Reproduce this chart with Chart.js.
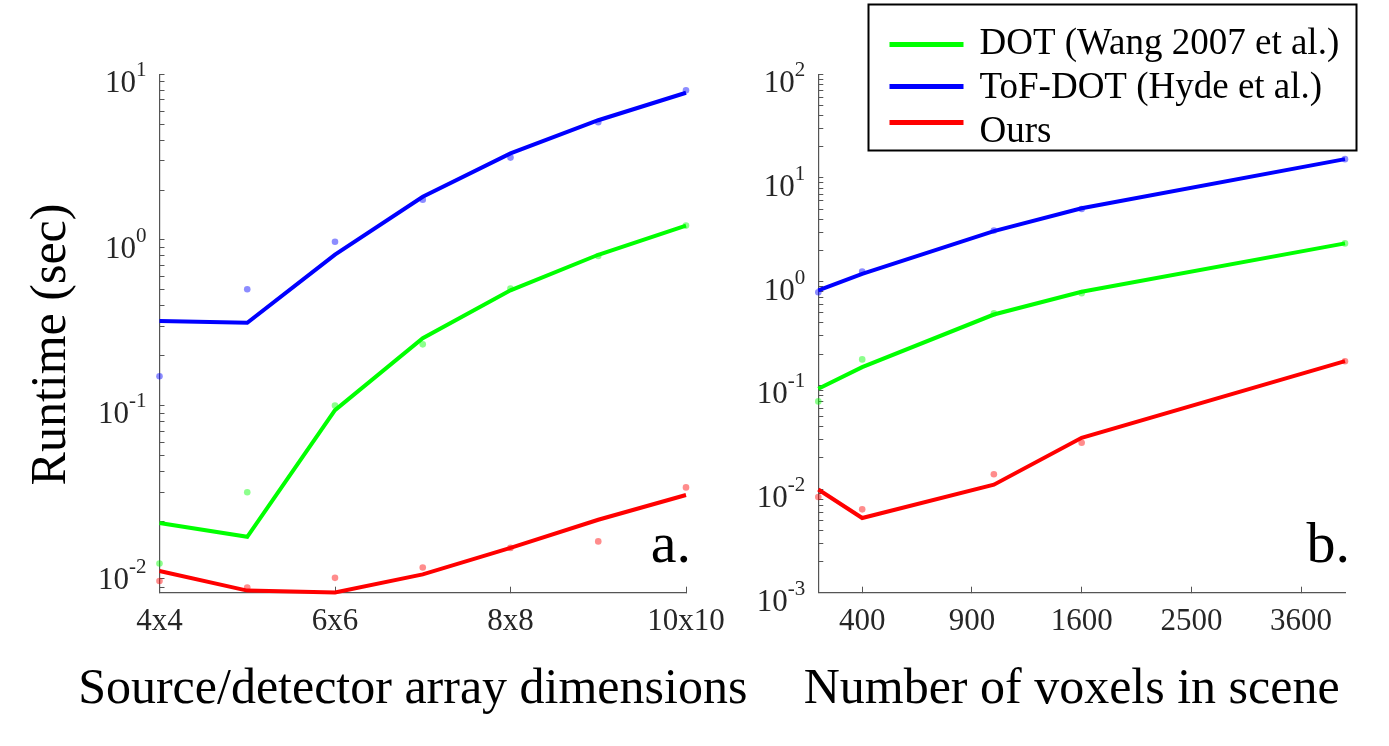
<!DOCTYPE html>
<html>
<head>
<meta charset="utf-8">
<script src="https://cdn.jsdelivr.net/npm/chart.js@4.4.1/dist/chart.umd.min.js"></script>
<style>
  html, body { margin: 0; padding: 0; background: #ffffff; }
  #wrap { position: relative; width: 1389px; height: 746px; }
  canvas { position: absolute; left: 0; top: 0; }
</style>
</head>
<body>
<div id="wrap">
  <canvas id="left" width="1389" height="746"></canvas>
  <canvas id="right" width="1389" height="746"></canvas>
</div>
<script>
// ---------------- data ----------------
const seriesNames = ['DOT (Wang 2007 et al.)', 'ToF-DOT (Hyde et al.)', 'Ours'];
const seriesColors = ['#00ff00', '#0000ff', '#ff0000'];
const dotColors = ['rgba(0,255,0,0.45)', 'rgba(0,0,255,0.45)', 'rgba(255,0,0,0.45)'];

// panel a: source/detector array size n (n x n)
const arraySizes = [4, 5, 6, 7, 8, 9, 10];
const arrayTickValues = [4, 6, 8, 10];
const arrayTickLabels = ['4x4', '6x6', '8x8', '10x10'];
const aDotFit   = [0.0195, 0.0161, 0.0937, 0.255, 0.496, 0.813, 1.22];
const aDotMeas  = [0.0111, 0.0299, 0.100, 0.234, 0.509, 0.80, 1.22];
const aTofFit   = [0.324, 0.316, 0.815, 1.82, 3.33, 5.28, 7.74];
const aTofMeas  = [0.150, 0.503, 0.974, 1.75, 3.14, 5.14, 8.0];
const aOursFit  = [0.0100, 0.00762, 0.00743, 0.00955, 0.0138, 0.0204, 0.0288];
const aOursMeas = [0.0087, 0.00796, 0.0091, 0.0105, 0.0138, 0.0151, 0.032];
const aDecades = [-2, -1, 0, 1];

// panel b: number of voxels in scene
const voxelCounts = [256, 400, 1024, 1600, 4096];
const voxelTickValues = [400, 900, 1600, 2500, 3600];
const bDotFit   = [0.0927, 0.150, 0.482, 0.80, 2.34];
const bDotMeas  = [0.070, 0.178, 0.494, 0.775, 2.34];
const bTofFit   = [0.822, 1.19, 3.07, 5.11, 15.2];
const bTofMeas  = [0.79, 1.25, 3.12, 5.02, 15.2];
const bOursFit  = [0.0099, 0.00525, 0.011, 0.0312, 0.171];
const bOursMeas = [0.00838, 0.00637, 0.0139, 0.0279, 0.171];
const bDecades = [-3, -2, -1, 0, 1, 2];

// ---------------- helpers ----------------
const SERIF = '"Liberation Serif", "Times New Roman", serif';
const AXIS_COLOR = '#555555';
const TICK_COLOR = '#262626';

function pts(xs, ys) { return xs.map((x, i) => ({ x: x, y: ys[i] })); }

function buildDatasets(xs, fits, meas) {
  const ds = [];
  fits.forEach((f, i) => {
    ds.push({
      type: 'line', label: seriesNames[i], data: pts(xs, f),
      borderColor: seriesColors[i], backgroundColor: seriesColors[i],
      borderWidth: 4, pointRadius: 0, tension: 0, fill: false, order: 2, clip: false
    });
  });
  meas.forEach((m, i) => {
    ds.push({
      type: 'line', label: '', data: pts(xs, m), showLine: false,
      pointRadius: 3.3, pointBorderWidth: 0,
      pointBackgroundColor: dotColors[i], borderColor: dotColors[i],
      order: 1, clip: false
    });
  });
  return ds;
}

function logTicks(min, max) {
  const out = [];
  for (let e = Math.floor(Math.log10(min)); e <= Math.ceil(Math.log10(max)); e++) {
    for (let k = 1; k <= 9; k++) {
      const v = k * Math.pow(10, e);
      if (v >= min * 0.9999 && v <= max * 1.0001) out.push({ value: v });
    }
  }
  return out;
}

// draws "10" with superscript exponent, axis titles, the panel letter, and optionally the legend
const decorPlugin = {
  id: 'decor',
  afterDraw(chart, args, opts) {
    const ctx = chart.ctx;
    const y = chart.scales.y;
    const area = chart.chartArea;
    ctx.save();
    ctx.fillStyle = TICK_COLOR;
    opts.decades.forEach(e => {
      const py = y.getPixelForValue(Math.pow(10, e));
      const right = area.left - 13;
      ctx.font = '21px ' + SERIF;
      ctx.textBaseline = 'alphabetic';
      ctx.textAlign = 'right';
      const sup = String(e);
      const supW = ctx.measureText(sup).width;
      ctx.fillText(sup, right, py + 2);
      ctx.font = '31px ' + SERIF;
      ctx.fillText('10', right - supW, py + 18);
    });

    // axis titles
    ctx.fillStyle = '#000000';
    ctx.font = '50px ' + SERIF;
    ctx.textAlign = 'center';
    ctx.textBaseline = 'middle';
    if (opts.xTitle) {
      ctx.fillText(opts.xTitle.text, (area.left + area.right) / 2 + opts.xTitle.dx, opts.xTitle.y);
    }
    if (opts.yTitle) {
      ctx.save();
      ctx.translate(opts.yTitle.x, (area.top + area.bottom) / 2 + opts.yTitle.dy);
      ctx.rotate(-Math.PI / 2);
      ctx.fillText(opts.yTitle.text, 0, 0);
      ctx.restore();
    }

    // panel letter
    ctx.font = '58px ' + SERIF;
    ctx.textAlign = 'right';
    ctx.textBaseline = 'alphabetic';
    ctx.fillText(opts.letter, area.right + 5, area.bottom - 31);

    if (opts.legend) {
      const L = opts.legend;
      ctx.fillStyle = '#ffffff';
      ctx.fillRect(L.x, L.y, L.w, L.h);
      ctx.strokeStyle = '#000000';
      ctx.lineWidth = 2;
      ctx.strokeRect(L.x, L.y, L.w, L.h);
      const items = chart.data.datasets.filter(d => d.label);
      items.forEach((d, i) => {
        const ly = L.y + L.lineY[i];
        ctx.strokeStyle = d.borderColor;
        ctx.lineWidth = 5;
        ctx.beginPath();
        ctx.moveTo(L.x + 21, ly);
        ctx.lineTo(L.x + 95, ly);
        ctx.stroke();
        ctx.fillStyle = '#000000';
        ctx.font = '37px ' + SERIF;
        ctx.textAlign = 'left';
        ctx.textBaseline = 'alphabetic';
        ctx.fillText(d.label, L.x + 111, L.y + L.textY[i]);
      });
    }
    ctx.restore();
  }
};

function makeOptions(cfg) {
  return {
    responsive: false,
    animation: false,
    events: [],
    layout: { padding: cfg.padding },
    plugins: {
      legend: { display: false },
      tooltip: { enabled: false },
      decor: cfg.decor
    },
    scales: {
      x: {
        type: 'linear',
        min: cfg.xMin, max: cfg.xMax,
        afterBuildTicks: s => { s.ticks = cfg.xTicks.map(v => ({ value: v })); },
        afterFit: s => { s.height = 153.3; },
        ticks: {
          autoSkip: false, maxRotation: 0, padding: 17,
          color: TICK_COLOR, font: { family: SERIF, size: 31 },
          callback: cfg.xLabel
        },
        grid: { drawOnChartArea: false, drawTicks: true, tickLength: -6, color: AXIS_COLOR, lineWidth: 1 },
        border: { display: true, color: AXIS_COLOR, width: 1.2 },
        title: { display: false }
      },
      y: {
        type: 'logarithmic',
        min: cfg.yMin, max: cfg.yMax,
        afterBuildTicks: s => { s.ticks = logTicks(cfg.yMin, cfg.yMax); },
        afterFit: s => { s.width = cfg.yWidth; },
        ticks: { display: false, autoSkip: false },
        grid: { drawOnChartArea: false, drawTicks: true, tickLength: -5, color: AXIS_COLOR, lineWidth: 1 },
        border: { display: true, color: AXIS_COLOR, width: 1.2 },
        title: { display: false }
      }
    }
  };
}

// ---------------- panel a ----------------
new Chart(document.getElementById('left'), {
  type: 'line',
  data: {
    datasets: buildDatasets(arraySizes, [aDotFit, aTofFit, aOursFit], [aDotMeas, aTofMeas, aOursMeas])
  },
  options: makeOptions({
    padding: { left: 0, right: 703, top: 74.3, bottom: 0 },
    xMin: 4, xMax: 10, xTicks: arrayTickValues,
    xLabel: v => arrayTickLabels[arrayTickValues.indexOf(v)],
    yMin: 0.0074, yMax: 10, yWidth: 159.5,
    decor: {
      decades: aDecades, letter: 'a.',
      xTitle: { text: 'Source/detector array dimensions', dx: -10, y: 690 },
      yTitle: { text: 'Runtime (sec)', x: 52, dy: 11 }
    }
  }),
  plugins: [decorPlugin]
});

// ---------------- panel b ----------------
const voxelSide = voxelCounts.map(v => Math.sqrt(v));
new Chart(document.getElementById('right'), {
  type: 'line',
  data: {
    datasets: buildDatasets(voxelSide, [bDotFit, bTofFit, bOursFit], [bDotMeas, bTofMeas, bOursMeas])
  },
  options: makeOptions({
    padding: { left: 740, right: 44, top: 74.3, bottom: 0 },
    xMin: Math.sqrt(voxelCounts[0]), xMax: Math.sqrt(voxelCounts[voxelCounts.length - 1]),
    xTicks: voxelTickValues.map(v => Math.sqrt(v)),
    xLabel: v => String(Math.round(v * v)),
    yMin: 0.001, yMax: 100, yWidth: 78.3,
    decor: {
      decades: bDecades, letter: 'b.',
      xTitle: { text: 'Number of voxels in scene', dx: -10, y: 690 },
      legend: { x: 868.5, y: 4.5, w: 488, h: 146, lineY: [40, 82, 118], textY: [49, 93, 137] }
    }
  }),
  plugins: [decorPlugin]
});
</script>
</body>
</html>
